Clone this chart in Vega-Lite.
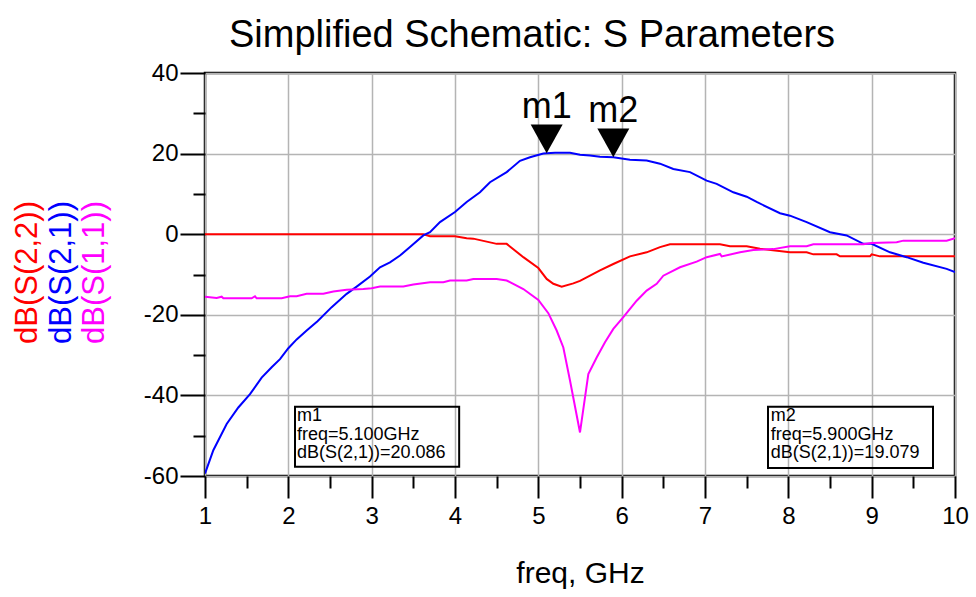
{
  "$schema": "https://vega.github.io/schema/vega-lite/v6.json",
  "width": 750,
  "height": 403,
  "autosize": {"type": "none"},
  "padding": {"left": 205, "top": 73, "right": 21, "bottom": 121},
  "background": "white",
  "view": {"stroke": "black", "strokeWidth": 2.5},
  "title": {"text": "Simplified Schematic: S Parameters", "fontSize": 38, "font": "Liberation Sans", "fontWeight": "normal", "color": "black", "anchor": "middle", "frame": "group", "dx": -48, "offset": -24, "baseline": "alphabetic"},
  "config": {
    "view": {"stroke": "black", "strokeWidth": 2.5},
    "font": "Liberation Sans",
    "axis": {"labelFont": "Liberation Sans", "titleFont": "Liberation Sans", "labelColor": "black", "titleColor": "black", "tickColor": "black", "tickWidth": 2, "labelFlush": false, "labelOverlap": false, "labelBound": false}
  },
  "datasets": {
    "traces": [
      {"trace": "dB(S(2,2))", "freq": 1.0, "dB": 0},
      {"trace": "dB(S(2,2))", "freq": 3.62, "dB": 0},
      {"trace": "dB(S(2,2))", "freq": 3.7, "dB": -0.5},
      {"trace": "dB(S(2,2))", "freq": 4.0, "dB": -0.5},
      {"trace": "dB(S(2,2))", "freq": 4.14, "dB": -1.0},
      {"trace": "dB(S(2,2))", "freq": 4.22, "dB": -1.1},
      {"trace": "dB(S(2,2))", "freq": 4.5, "dB": -2.4},
      {"trace": "dB(S(2,2))", "freq": 4.62, "dB": -2.4},
      {"trace": "dB(S(2,2))", "freq": 4.82, "dB": -5.7},
      {"trace": "dB(S(2,2))", "freq": 5.0, "dB": -8.4},
      {"trace": "dB(S(2,2))", "freq": 5.1, "dB": -11.1},
      {"trace": "dB(S(2,2))", "freq": 5.18, "dB": -12.3},
      {"trace": "dB(S(2,2))", "freq": 5.28, "dB": -13.0},
      {"trace": "dB(S(2,2))", "freq": 5.42, "dB": -12.2},
      {"trace": "dB(S(2,2))", "freq": 5.5, "dB": -11.6},
      {"trace": "dB(S(2,2))", "freq": 5.62, "dB": -10.3},
      {"trace": "dB(S(2,2))", "freq": 5.74, "dB": -9.0},
      {"trace": "dB(S(2,2))", "freq": 5.9, "dB": -7.4},
      {"trace": "dB(S(2,2))", "freq": 6.1, "dB": -5.5},
      {"trace": "dB(S(2,2))", "freq": 6.3, "dB": -4.5},
      {"trace": "dB(S(2,2))", "freq": 6.46, "dB": -3.2},
      {"trace": "dB(S(2,2))", "freq": 6.58, "dB": -2.5},
      {"trace": "dB(S(2,2))", "freq": 7.18, "dB": -2.5},
      {"trace": "dB(S(2,2))", "freq": 7.3, "dB": -3.0},
      {"trace": "dB(S(2,2))", "freq": 7.5, "dB": -3.0},
      {"trace": "dB(S(2,2))", "freq": 7.66, "dB": -3.6},
      {"trace": "dB(S(2,2))", "freq": 8.02, "dB": -4.5},
      {"trace": "dB(S(2,2))", "freq": 8.22, "dB": -4.5},
      {"trace": "dB(S(2,2))", "freq": 8.3, "dB": -5.0},
      {"trace": "dB(S(2,2))", "freq": 8.58, "dB": -5.0},
      {"trace": "dB(S(2,2))", "freq": 8.62, "dB": -5.5},
      {"trace": "dB(S(2,2))", "freq": 8.98, "dB": -5.5},
      {"trace": "dB(S(2,2))", "freq": 9.0, "dB": -5.0},
      {"trace": "dB(S(2,2))", "freq": 9.1, "dB": -5.5},
      {"trace": "dB(S(2,2))", "freq": 10.0, "dB": -5.5},

      {"trace": "dB(S(2,1))", "freq": 1.0, "dB": -59.4},
      {"trace": "dB(S(2,1))", "freq": 1.1, "dB": -53.6},
      {"trace": "dB(S(2,1))", "freq": 1.26, "dB": -47.1},
      {"trace": "dB(S(2,1))", "freq": 1.4, "dB": -43.0},
      {"trace": "dB(S(2,1))", "freq": 1.54, "dB": -39.7},
      {"trace": "dB(S(2,1))", "freq": 1.68, "dB": -35.6},
      {"trace": "dB(S(2,1))", "freq": 1.8, "dB": -33.0},
      {"trace": "dB(S(2,1))", "freq": 1.9, "dB": -31.0},
      {"trace": "dB(S(2,1))", "freq": 2.0, "dB": -28.3},
      {"trace": "dB(S(2,1))", "freq": 2.1, "dB": -26.1},
      {"trace": "dB(S(2,1))", "freq": 2.22, "dB": -23.9},
      {"trace": "dB(S(2,1))", "freq": 2.35, "dB": -21.6},
      {"trace": "dB(S(2,1))", "freq": 2.52, "dB": -18.1},
      {"trace": "dB(S(2,1))", "freq": 2.7, "dB": -14.8},
      {"trace": "dB(S(2,1))", "freq": 2.82, "dB": -13.0},
      {"trace": "dB(S(2,1))", "freq": 2.98, "dB": -10.5},
      {"trace": "dB(S(2,1))", "freq": 3.1, "dB": -8.2},
      {"trace": "dB(S(2,1))", "freq": 3.22, "dB": -7.0},
      {"trace": "dB(S(2,1))", "freq": 3.34, "dB": -5.3},
      {"trace": "dB(S(2,1))", "freq": 3.46, "dB": -3.2},
      {"trace": "dB(S(2,1))", "freq": 3.62, "dB": -0.3},
      {"trace": "dB(S(2,1))", "freq": 3.7, "dB": 0.5},
      {"trace": "dB(S(2,1))", "freq": 3.82, "dB": 3.0},
      {"trace": "dB(S(2,1))", "freq": 4.0, "dB": 5.5},
      {"trace": "dB(S(2,1))", "freq": 4.14, "dB": 8.0},
      {"trace": "dB(S(2,1))", "freq": 4.3, "dB": 10.4},
      {"trace": "dB(S(2,1))", "freq": 4.42, "dB": 12.9},
      {"trace": "dB(S(2,1))", "freq": 4.62, "dB": 15.4},
      {"trace": "dB(S(2,1))", "freq": 4.78, "dB": 18.2},
      {"trace": "dB(S(2,1))", "freq": 4.9, "dB": 19.1},
      {"trace": "dB(S(2,1))", "freq": 5.06, "dB": 20.0},
      {"trace": "dB(S(2,1))", "freq": 5.1, "dB": 20.09},
      {"trace": "dB(S(2,1))", "freq": 5.2, "dB": 20.2},
      {"trace": "dB(S(2,1))", "freq": 5.38, "dB": 20.2},
      {"trace": "dB(S(2,1))", "freq": 5.5, "dB": 19.7},
      {"trace": "dB(S(2,1))", "freq": 5.62, "dB": 19.5},
      {"trace": "dB(S(2,1))", "freq": 5.74, "dB": 19.2},
      {"trace": "dB(S(2,1))", "freq": 5.9, "dB": 19.08},
      {"trace": "dB(S(2,1))", "freq": 6.1, "dB": 18.5},
      {"trace": "dB(S(2,1))", "freq": 6.3, "dB": 18.3},
      {"trace": "dB(S(2,1))", "freq": 6.46, "dB": 17.5},
      {"trace": "dB(S(2,1))", "freq": 6.62, "dB": 16.2},
      {"trace": "dB(S(2,1))", "freq": 6.82, "dB": 15.4},
      {"trace": "dB(S(2,1))", "freq": 7.02, "dB": 13.3},
      {"trace": "dB(S(2,1))", "freq": 7.14, "dB": 12.5},
      {"trace": "dB(S(2,1))", "freq": 7.34, "dB": 10.4},
      {"trace": "dB(S(2,1))", "freq": 7.5, "dB": 9.3},
      {"trace": "dB(S(2,1))", "freq": 7.62, "dB": 8.0},
      {"trace": "dB(S(2,1))", "freq": 7.9, "dB": 5.2},
      {"trace": "dB(S(2,1))", "freq": 8.02, "dB": 4.6},
      {"trace": "dB(S(2,1))", "freq": 8.22, "dB": 3.0},
      {"trace": "dB(S(2,1))", "freq": 8.5, "dB": 0.5},
      {"trace": "dB(S(2,1))", "freq": 8.7, "dB": -0.3},
      {"trace": "dB(S(2,1))", "freq": 8.9, "dB": -2.4},
      {"trace": "dB(S(2,1))", "freq": 9.0, "dB": -2.4},
      {"trace": "dB(S(2,1))", "freq": 9.22, "dB": -4.5},
      {"trace": "dB(S(2,1))", "freq": 9.42, "dB": -5.7},
      {"trace": "dB(S(2,1))", "freq": 9.62, "dB": -7.1},
      {"trace": "dB(S(2,1))", "freq": 9.9, "dB": -8.6},
      {"trace": "dB(S(2,1))", "freq": 10.0, "dB": -9.4},

      {"trace": "dB(S(1,1))", "freq": 1.0, "dB": -15.5},
      {"trace": "dB(S(1,1))", "freq": 1.14, "dB": -15.8},
      {"trace": "dB(S(1,1))", "freq": 1.2, "dB": -15.5},
      {"trace": "dB(S(1,1))", "freq": 1.22, "dB": -15.9},
      {"trace": "dB(S(1,1))", "freq": 1.56, "dB": -15.9},
      {"trace": "dB(S(1,1))", "freq": 1.6, "dB": -15.4},
      {"trace": "dB(S(1,1))", "freq": 1.62, "dB": -15.9},
      {"trace": "dB(S(1,1))", "freq": 1.92, "dB": -15.9},
      {"trace": "dB(S(1,1))", "freq": 2.02, "dB": -15.4},
      {"trace": "dB(S(1,1))", "freq": 2.1, "dB": -15.4},
      {"trace": "dB(S(1,1))", "freq": 2.22, "dB": -14.8},
      {"trace": "dB(S(1,1))", "freq": 2.42, "dB": -14.8},
      {"trace": "dB(S(1,1))", "freq": 2.54, "dB": -14.2},
      {"trace": "dB(S(1,1))", "freq": 2.7, "dB": -13.8},
      {"trace": "dB(S(1,1))", "freq": 2.9, "dB": -13.6},
      {"trace": "dB(S(1,1))", "freq": 3.0, "dB": -13.4},
      {"trace": "dB(S(1,1))", "freq": 3.1, "dB": -13.0},
      {"trace": "dB(S(1,1))", "freq": 3.38, "dB": -13.0},
      {"trace": "dB(S(1,1))", "freq": 3.5, "dB": -12.5},
      {"trace": "dB(S(1,1))", "freq": 3.7, "dB": -11.9},
      {"trace": "dB(S(1,1))", "freq": 3.86, "dB": -11.9},
      {"trace": "dB(S(1,1))", "freq": 3.94, "dB": -11.5},
      {"trace": "dB(S(1,1))", "freq": 4.14, "dB": -11.5},
      {"trace": "dB(S(1,1))", "freq": 4.22, "dB": -11.1},
      {"trace": "dB(S(1,1))", "freq": 4.5, "dB": -11.1},
      {"trace": "dB(S(1,1))", "freq": 4.62, "dB": -11.5},
      {"trace": "dB(S(1,1))", "freq": 4.82, "dB": -13.6},
      {"trace": "dB(S(1,1))", "freq": 5.0, "dB": -16.3},
      {"trace": "dB(S(1,1))", "freq": 5.12, "dB": -19.6},
      {"trace": "dB(S(1,1))", "freq": 5.22, "dB": -23.9},
      {"trace": "dB(S(1,1))", "freq": 5.3, "dB": -28.1},
      {"trace": "dB(S(1,1))", "freq": 5.38, "dB": -36.3},
      {"trace": "dB(S(1,1))", "freq": 5.5, "dB": -49.2},
      {"trace": "dB(S(1,1))", "freq": 5.6, "dB": -34.7},
      {"trace": "dB(S(1,1))", "freq": 5.7, "dB": -30.6},
      {"trace": "dB(S(1,1))", "freq": 5.8, "dB": -26.8},
      {"trace": "dB(S(1,1))", "freq": 5.9, "dB": -23.5},
      {"trace": "dB(S(1,1))", "freq": 6.02, "dB": -20.6},
      {"trace": "dB(S(1,1))", "freq": 6.18, "dB": -16.5},
      {"trace": "dB(S(1,1))", "freq": 6.3, "dB": -14.0},
      {"trace": "dB(S(1,1))", "freq": 6.42, "dB": -12.3},
      {"trace": "dB(S(1,1))", "freq": 6.5, "dB": -10.3},
      {"trace": "dB(S(1,1))", "freq": 6.7, "dB": -8.2},
      {"trace": "dB(S(1,1))", "freq": 6.9, "dB": -6.8},
      {"trace": "dB(S(1,1))", "freq": 7.02, "dB": -5.7},
      {"trace": "dB(S(1,1))", "freq": 7.18, "dB": -4.9},
      {"trace": "dB(S(1,1))", "freq": 7.2, "dB": -5.5},
      {"trace": "dB(S(1,1))", "freq": 7.42, "dB": -4.5},
      {"trace": "dB(S(1,1))", "freq": 7.58, "dB": -3.9},
      {"trace": "dB(S(1,1))", "freq": 7.82, "dB": -3.7},
      {"trace": "dB(S(1,1))", "freq": 8.02, "dB": -3.0},
      {"trace": "dB(S(1,1))", "freq": 8.22, "dB": -3.0},
      {"trace": "dB(S(1,1))", "freq": 8.3, "dB": -2.5},
      {"trace": "dB(S(1,1))", "freq": 8.9, "dB": -2.5},
      {"trace": "dB(S(1,1))", "freq": 9.0, "dB": -2.2},
      {"trace": "dB(S(1,1))", "freq": 9.3, "dB": -2.0},
      {"trace": "dB(S(1,1))", "freq": 9.38, "dB": -1.6},
      {"trace": "dB(S(1,1))", "freq": 9.9, "dB": -1.6},
      {"trace": "dB(S(1,1))", "freq": 10.0, "dB": -1.0}
    ],
    "markers": [
      {"marker": "m1", "freq": 5.1, "dB": 20.086, "readout": "m1\nfreq=5.100GHz\ndB(S(2,1))=20.086"},
      {"marker": "m2", "freq": 5.9, "dB": 19.079, "readout": "m2\nfreq=5.900GHz\ndB(S(2,1))=19.079"}
    ],
    "ytitles": [
      {"trace": "dB(S(2,2))"},
      {"trace": "dB(S(2,1))"},
      {"trace": "dB(S(1,1))"}
    ]
  },
  "layer": [
    {
      "data": {"name": "traces"},
      "mark": {"type": "line", "strokeWidth": 2, "clip": true},
      "encoding": {
        "x": {"field": "freq", "type": "quantitative", "scale": {"domain": [1, 10], "nice": false, "zero": false},
              "axis": {"orient": "bottom", "values": [1, 2, 3, 4, 5, 6, 7, 8, 9, 10], "tickSize": 22, "labelFontSize": 24, "labelPadding": 6, "grid": true, "gridColor": "#b4b4b4", "gridWidth": 1.5, "domain": false, "title": "freq, GHz", "titleFontSize": 30, "titleFontWeight": "normal", "titlePadding": 30}},
        "y": {"field": "dB", "type": "quantitative", "scale": {"domain": [-60, 40], "nice": false, "zero": false},
              "axis": {"orient": "left", "values": [-60, -40, -20, 0, 20, 40], "labelExpr": "'' + datum.value", "tickSize": 25, "labelFontSize": 24, "labelPadding": 2, "grid": true, "gridColor": "#b4b4b4", "gridWidth": 1.5, "domain": false, "title": null}},
        "color": {"field": "trace", "type": "nominal", "scale": {"domain": ["dB(S(2,2))", "dB(S(2,1))", "dB(S(1,1))"], "range": ["#ff0000", "#0000ff", "#ff00ff"]}, "legend": null}
      }
    },
    {
      "data": {"name": "markers"},
      "mark": {"type": "point", "shape": "M-1,-1.8L1,-1.8L0,0Z", "size": 1024, "filled": true, "color": "black", "opacity": 1, "strokeWidth": 0},
      "encoding": {
        "x": {"field": "freq", "type": "quantitative",
              "axis": {"orient": "bottom", "values": [1.5, 2.5, 3.5, 4.5, 5.5, 6.5, 7.5, 8.5, 9.5], "tickSize": 12, "labels": false, "grid": false, "domain": false, "title": null}},
        "y": {"field": "dB", "type": "quantitative",
              "axis": {"orient": "left", "values": [-50, -30, -10, 10, 30], "tickSize": 12, "labels": false, "grid": false, "domain": false, "title": null}}
      }
    },
    {
      "data": {"name": "markers"},
      "mark": {"type": "text", "fontSize": 36, "font": "Liberation Sans", "color": "black", "align": "center", "baseline": "alphabetic", "dy": -35},
      "encoding": {
        "x": {"field": "freq", "type": "quantitative", "axis": null},
        "y": {"field": "dB", "type": "quantitative", "axis": null},
        "text": {"field": "marker"}
      }
    },
    {
      "data": {"name": "markers"},
      "transform": [{"filter": "datum.marker === 'm1'"}],
      "mark": {"type": "rect", "fill": "transparent", "stroke": "black", "strokeWidth": 2},
      "encoding": {
        "x": {"datum": 2.08, "type": "quantitative", "axis": null},
        "x2": {"datum": 4.05},
        "y": {"datum": -42.8, "type": "quantitative", "axis": null},
        "y2": {"datum": -57.7}
      }
    },
    {
      "data": {"name": "markers"},
      "transform": [{"filter": "datum.marker === 'm2'"}],
      "mark": {"type": "rect", "fill": "transparent", "stroke": "black", "strokeWidth": 2},
      "encoding": {
        "x": {"datum": 7.756, "type": "quantitative", "axis": null},
        "x2": {"datum": 9.736},
        "y": {"datum": -42.8, "type": "quantitative", "axis": null},
        "y2": {"datum": -58.0}
      }
    },
    {
      "data": {"name": "markers"},
      "transform": [{"filter": "datum.marker === 'm1'"}],
      "mark": {"type": "text", "fontSize": 18, "font": "Liberation Sans", "color": "black", "align": "left", "baseline": "top", "lineBreak": "\n", "lineHeight": 18.3},
      "encoding": {
        "x": {"datum": 2.104, "type": "quantitative", "axis": null},
        "y": {"datum": -43.0, "type": "quantitative", "axis": null},
        "text": {"field": "readout"}
      }
    },
    {
      "data": {"name": "markers"},
      "transform": [{"filter": "datum.marker === 'm2'"}],
      "mark": {"type": "text", "fontSize": 18, "font": "Liberation Sans", "color": "black", "align": "left", "baseline": "top", "lineBreak": "\n", "lineHeight": 18.3},
      "encoding": {
        "x": {"datum": 7.79, "type": "quantitative", "axis": null},
        "y": {"datum": -43.0, "type": "quantitative", "axis": null},
        "text": {"field": "readout"}
      }
    },
    {
      "data": {"name": "ytitles"},
      "transform": [{"filter": "datum.trace === 'dB(S(2,2))'"}],
      "mark": {"type": "text", "fontSize": 31, "font": "Liberation Sans", "angle": 270, "align": "center", "baseline": "middle"},
      "encoding": {
        "x": {"datum": -1.124, "type": "quantitative", "axis": null},
        "y": {"datum": -9.5, "type": "quantitative", "axis": null},
        "text": {"field": "trace"},
        "color": {"field": "trace", "type": "nominal", "legend": null}
      }
    },
    {
      "data": {"name": "ytitles"},
      "transform": [{"filter": "datum.trace === 'dB(S(2,1))'"}],
      "mark": {"type": "text", "fontSize": 31, "font": "Liberation Sans", "angle": 270, "align": "center", "baseline": "middle"},
      "encoding": {
        "x": {"datum": -0.716, "type": "quantitative", "axis": null},
        "y": {"datum": -9.5, "type": "quantitative", "axis": null},
        "text": {"field": "trace"},
        "color": {"field": "trace", "type": "nominal", "legend": null}
      }
    },
    {
      "data": {"name": "ytitles"},
      "transform": [{"filter": "datum.trace === 'dB(S(1,1))'"}],
      "mark": {"type": "text", "fontSize": 31, "font": "Liberation Sans", "angle": 270, "align": "center", "baseline": "middle"},
      "encoding": {
        "x": {"datum": -0.32, "type": "quantitative", "axis": null},
        "y": {"datum": -9.5, "type": "quantitative", "axis": null},
        "text": {"field": "trace"},
        "color": {"field": "trace", "type": "nominal", "legend": null}
      }
    }
  ],
  "resolve": {"axis": {"x": "independent", "y": "independent"}}
}
